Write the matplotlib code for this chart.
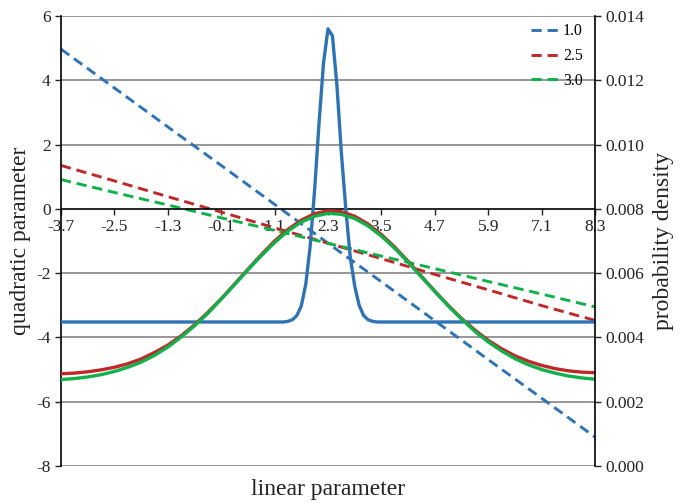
import matplotlib
matplotlib.use('Agg')
import matplotlib.pyplot as plt

plt.rcParams['font.family'] = ['Liberation Serif', 'DejaVu Serif']

# x tick positions / labels on the linear parameter axis
x_ticks = [-3.7, -2.5, -1.3, -0.1, 1.1, 2.3, 3.5, 4.7, 5.9, 7.1, 8.3]
x_labels = ['-3.7', '-2.5', '-1.3', '-0.1', '1.1', '2.3', '3.5', '4.7', '5.9', '7.1', '8.3']

# quadratic parameter lines (left axis)
q_10 = [4.97, 3.76, 2.55, 1.35, 0.14, -1.07, -2.27, -3.48, -4.69, -5.89, -7.10]
q_25 = [1.35, 0.87, 0.38, -0.10, -0.59, -1.07, -1.55, -2.04, -2.52, -3.01, -3.47]
q_30 = [0.91, 0.51, 0.12, -0.28, -0.67, -1.07, -1.47, -1.86, -2.26, -2.65, -3.05]

# probability density curves (right axis)
x_dens = [-3.7, -3.4, -3.1, -2.8, -2.5, -2.2, -1.9, -1.6, -1.3, -1.0,
          -0.7, -0.4, -0.1, 0.2, 0.5, 0.8, 1.1, 1.4, 1.7, 2.0,
          2.3, 2.6, 2.9, 3.2, 3.5, 3.8, 4.1, 4.4, 4.7, 5.0,
          5.3, 5.6, 5.9, 6.2, 6.5, 6.8, 7.1, 7.4, 7.7, 8.0, 8.3]
dens_25 = [0.00287, 0.00289, 0.00293, 0.00299, 0.00307, 0.00318, 0.00333, 0.00353, 0.00376, 0.00405,
           0.00439, 0.00478, 0.00520, 0.00566, 0.00612, 0.00657, 0.00700, 0.00736, 0.00765, 0.00785,
           0.00794, 0.00791, 0.00777, 0.00753, 0.00720, 0.00681, 0.00637, 0.00590, 0.00544, 0.00500,
           0.00459, 0.00423, 0.00391, 0.00365, 0.00343, 0.00326, 0.00313, 0.00303, 0.00296, 0.00292, 0.00290]
dens_30 = [0.00269, 0.00272, 0.00277, 0.00284, 0.00294, 0.00307, 0.00323, 0.00344, 0.00370, 0.00401,
           0.00436, 0.00475, 0.00519, 0.00564, 0.00610, 0.00654, 0.00695, 0.00731, 0.00759, 0.00777,
           0.00786, 0.00783, 0.00770, 0.00747, 0.00715, 0.00677, 0.00634, 0.00588, 0.00543, 0.00498,
           0.00457, 0.00419, 0.00386, 0.00358, 0.00334, 0.00315, 0.00300, 0.00289, 0.00280, 0.00274, 0.00270]

x_peak = [-3.7, 1.2, 1.3, 1.4, 1.5, 1.6, 1.7, 1.8, 1.9, 2.0, 2.1, 2.2, 2.3, 2.4,
          2.5, 2.6, 2.7, 2.8, 2.9, 3.0, 3.1, 3.2, 3.3, 3.4, 8.3]
dens_10 = [0.00448, 0.00448, 0.00448, 0.00450, 0.00455, 0.00468, 0.00498, 0.00565, 0.00685, 0.00860,
           0.01070, 0.01255, 0.01360, 0.01338, 0.01185, 0.00975, 0.00800, 0.00650, 0.00560, 0.00500,
           0.00468, 0.00455, 0.00450, 0.00448, 0.00448]

blue = '#2e74b5'
red = '#c0282a'
green = '#10b04a'

fig = plt.figure(figsize=(6.8, 5.03), dpi=100)
ax = fig.add_axes([0.0897, 0.0736, 0.7853, 0.8946])
ax2 = ax.twinx()

# grid lines
for g in [-8, -6, -4, -2, 2, 4, 6]:
    ax.axhline(g, color='#858585', lw=1.2, zorder=0)

dash = (3.5, 2.0)
ax.plot(x_ticks, q_10, color=blue, lw=2.1, dashes=dash, label='1.0')
ax.plot(x_ticks, q_25, color=red, lw=2.1, dashes=dash, label='2.5')
ax.plot(x_ticks, q_30, color=green, lw=2.1, dashes=dash, label='3.0')

ax2.plot(x_peak, dens_10, color=blue, lw=2.4)
ax2.plot(x_dens, dens_25, color=red, lw=2.4)
ax2.plot(x_dens, dens_30, color=green, lw=2.4)

ax.set_xlim(-3.7, 8.3)
ax.set_ylim(-8, 6)
ax2.set_ylim(0, 0.014)

ax.set_xticks(x_ticks)
ax.set_xticklabels(x_labels)
ax.set_yticks([-8, -6, -4, -2, 0, 2, 4, 6])
ax.set_yticklabels(['-8', '-6', '-4', '-2', '0', '2', '4', '6'])
ax2.set_yticks([0.0, 0.002, 0.004, 0.006, 0.008, 0.010, 0.012, 0.014])
ax2.set_yticklabels(['0.000', '0.002', '0.004', '0.006', '0.008', '0.010', '0.012', '0.014'])

ax.spines['bottom'].set_position(('data', 0))
ax.spines['top'].set_visible(False)
ax.spines['right'].set_visible(False)
for s in ['top', 'bottom', 'left']:
    ax2.spines[s].set_visible(False)
ax.spines['left'].set_linewidth(1.2)
ax.spines['bottom'].set_linewidth(1.2)
ax2.spines['right'].set_linewidth(1.2)

ax.tick_params(axis='both', direction='out', length=4, width=1.0, labelsize=12.5, colors='#222222')
ax.tick_params(axis='x', pad=3)
ax2.tick_params(axis='y', direction='out', length=4, width=1.0, labelsize=12.5, colors='#222222')

ax.set_xlabel('linear parameter', fontsize=17, color='#222222')
ax.xaxis.set_label_coords(0.5, -0.03)
ax.set_ylabel('quadratic parameter', fontsize=17, color='#222222', labelpad=4)
ax2.set_ylabel('probability density', fontsize=17, color='#222222', labelpad=6)

leg = ax2.legend(*ax.get_legend_handles_labels(), loc='upper right', frameon=False,
                 fontsize=11.5, handlelength=1.9, handletextpad=0.1,
                 labelspacing=0.55, borderaxespad=0.2, bbox_to_anchor=(0.995, 1.005))

fig.savefig('out.png', dpi=100)
